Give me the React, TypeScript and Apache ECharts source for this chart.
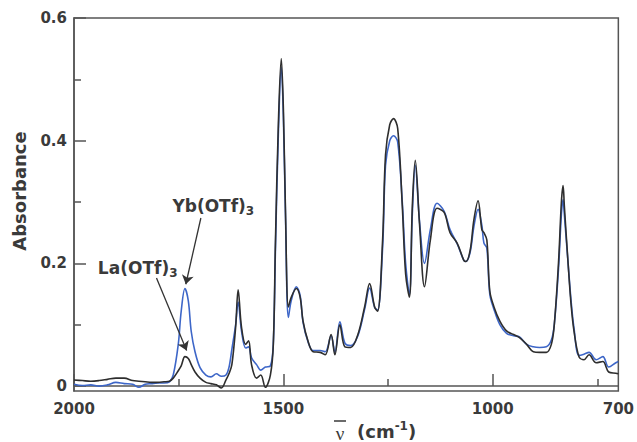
import React, { useEffect, useRef } from "react";
import * as echarts from "echarts";

// Wavenumber (cm-1)
const wavenumber = [
  2000, 1980, 1960, 1940, 1920, 1900, 1880, 1860, 1845, 1830, 1815, 1800, 1785, 1772,
  1763, 1751, 1744, 1735, 1727, 1720, 1711, 1699, 1685, 1673, 1660, 1648, 1637, 1630,
  1623, 1614, 1608, 1600, 1590, 1583, 1576, 1564, 1554, 1543, 1531, 1524, 1519, 1512,
  1505, 1500, 1495, 1488, 1481, 1469, 1460, 1453, 1441, 1429, 1412, 1400, 1386, 1377,
  1365, 1353, 1339, 1322, 1306, 1294, 1282, 1275, 1263, 1256, 1246, 1237, 1227, 1216,
  1208, 1199, 1192, 1185, 1175, 1163, 1149, 1133, 1116, 1102, 1085, 1069, 1064, 1054,
  1045, 1035, 1026, 1021, 1014, 1007, 997, 983, 967, 950, 936, 919, 903, 888, 872, 860,
  853, 843, 836, 832, 829, 820, 813, 806, 794, 782, 770, 753, 737, 723, 706, 700,
];

// Black trace: La(OTf)3
const laOTf3 = [
  0.010, 0.009, 0.008, 0.009, 0.011, 0.013, 0.013, 0.009, 0.008, 0.007, 0.006, 0.006, 0.007, 0.008,
  0.013, 0.025, 0.033, 0.048, 0.045, 0.035, 0.023, 0.013, 0.006, 0.004, 0.002, -0.003, 0.010, 0.020,
  0.035, 0.096, 0.157, 0.096, 0.068, 0.074, 0.035, 0.013, 0.018, -0.002, 0.018, 0.068, 0.233, 0.426,
  0.534, 0.453, 0.288, 0.129, 0.145, 0.159, 0.145, 0.106, 0.073, 0.056, 0.055, 0.051, 0.084, 0.051,
  0.100, 0.064, 0.063, 0.084, 0.129, 0.167, 0.129, 0.122, 0.238, 0.377, 0.426, 0.436, 0.420, 0.294,
  0.183, 0.145, 0.294, 0.368, 0.266, 0.162, 0.238, 0.290, 0.283, 0.250, 0.233, 0.205, 0.203, 0.221,
  0.271, 0.302, 0.255, 0.250, 0.238, 0.155, 0.129, 0.106, 0.090, 0.084, 0.079, 0.068, 0.056, 0.055, 0.055, 0.068,
  0.100, 0.200, 0.300, 0.327, 0.294, 0.200, 0.134, 0.090, 0.048, 0.043, 0.051, 0.038, 0.040, 0.023, 0.021, 0.020,
];

// Blue trace: Yb(OTf)3
const ybOTf3 = [
  0.003, 0.001, 0.002, 0.000, 0.002, 0.006, 0.004, 0.003, -0.002, 0.003, 0.004, 0.005, 0.005, 0.007,
  0.018, 0.068, 0.122, 0.159, 0.139, 0.089, 0.056, 0.030, 0.018, 0.015, 0.020, 0.016, 0.018, 0.030,
  0.060, 0.100, 0.137, 0.090, 0.062, 0.064, 0.046, 0.035, 0.026, 0.031, 0.033, 0.070, 0.220, 0.410,
  0.520, 0.440, 0.280, 0.112, 0.140, 0.162, 0.148, 0.104, 0.072, 0.058, 0.058, 0.056, 0.082, 0.055,
  0.105, 0.070, 0.066, 0.082, 0.125, 0.160, 0.128, 0.124, 0.225, 0.360, 0.400, 0.408, 0.398, 0.300,
  0.200, 0.150, 0.280, 0.360, 0.270, 0.200, 0.255, 0.298, 0.285, 0.255, 0.232, 0.205, 0.203, 0.218,
  0.260, 0.288, 0.262, 0.233, 0.225, 0.150, 0.125, 0.100, 0.086, 0.082, 0.080, 0.068, 0.064, 0.063, 0.064, 0.075,
  0.100, 0.190, 0.280, 0.304, 0.280, 0.200, 0.140, 0.095, 0.050, 0.052, 0.055, 0.043, 0.048, 0.031, 0.038, 0.040,
];

const xMajorTicks = [2000, 1500, 1000];
const xMinorTicks = [1750, 1250, 750];
const xTickLabels = [2000, 1500, 1000, 700];
const yMajorTicks = [0, 0.2, 0.4, 0.6];
const yMinorTicks = [0.1, 0.3, 0.5];
const yTickLabels = [0, 0.2, 0.4, 0.6];

const FONT = "DejaVu Sans";
const AXIS_COLOR = "#555";
const TEXT_COLOR = "#3a3a3a";

export default function App() {
  const ref = useRef<HTMLDivElement>(null);
  useEffect(() => {
    if (!ref.current) return;
    const chart = echarts.init(ref.current, undefined, { renderer: "svg" });
    const xBase = {
      type: "value" as const,
      min: 700,
      max: 2000,
      inverse: true,
      position: "bottom" as const,
      splitLine: { show: false },
    };
    const yBase = {
      type: "value" as const,
      min: -0.008,
      max: 0.6,
      position: "left" as const,
      splitLine: { show: false },
    };
    const option: any = {
      animation: false,
      backgroundColor: "#fff",
      grid: {
        left: 74,
        right: 15,
        top: 18,
        bottom: 51,
        show: true,
        borderColor: AXIS_COLOR,
        borderWidth: 1.5,
        backgroundColor: "transparent",
      },
      xAxis: [
        {
          ...xBase,
          axisLine: { show: true, lineStyle: { color: AXIS_COLOR, width: 1.5 } },
          axisTick: {
            show: true,
            inside: true,
            length: 12,
            customValues: xMajorTicks,
            lineStyle: { color: AXIS_COLOR, width: 1.5 },
          },
          axisLabel: {
            customValues: xTickLabels,
            formatter: (v: number) => String(Math.round(v)),
            fontSize: 15,
            fontWeight: "bold",
            fontFamily: FONT,
            color: TEXT_COLOR,
            margin: 10,
          },
        },
        {
          ...xBase,
          axisLine: { show: false },
          axisTick: {
            show: true,
            inside: true,
            length: 7,
            customValues: xMinorTicks,
            lineStyle: { color: AXIS_COLOR, width: 1.5 },
          },
          axisLabel: { show: false },
        },
      ],
      yAxis: [
        {
          ...yBase,
          axisLine: { show: true, lineStyle: { color: AXIS_COLOR, width: 1.5 } },
          axisTick: {
            show: true,
            inside: true,
            length: 12,
            customValues: yMajorTicks,
            lineStyle: { color: AXIS_COLOR, width: 1.5 },
          },
          axisLabel: {
            customValues: yTickLabels,
            formatter: (v: number) => (Math.abs(v) < 1e-9 ? "0" : v.toFixed(1)),
            fontSize: 15,
            fontWeight: "bold",
            fontFamily: FONT,
            color: TEXT_COLOR,
            margin: 7,
          },
        },
        {
          ...yBase,
          axisLine: { show: false },
          axisTick: {
            show: true,
            inside: true,
            length: 7,
            customValues: yMinorTicks,
            lineStyle: { color: AXIS_COLOR, width: 1.5 },
          },
          axisLabel: { show: false },
        },
      ],
      series: [
        {
          name: "Yb(OTf)3",
          type: "line",
          xAxisIndex: 0,
          yAxisIndex: 0,
          showSymbol: false,
          smooth: 0.35,
          data: wavenumber.map((x, i) => [x, ybOTf3[i]]),
          lineStyle: { color: "#3d66c8", width: 1.6 },
          z: 2,
        },
        {
          name: "La(OTf)3",
          type: "line",
          xAxisIndex: 0,
          yAxisIndex: 0,
          showSymbol: false,
          smooth: 0.35,
          data: wavenumber.map((x, i) => [x, laOTf3[i]]),
          lineStyle: { color: "#2e2e2e", width: 1.6 },
          z: 3,
          markLine: {
            silent: true,
            symbol: ["none", "arrow"],
            symbolSize: 9,
            label: { show: false },
            lineStyle: { color: "#333", width: 1.3, type: "solid" },
            data: [
              [{ coord: [1697, 0.274] }, { coord: [1733, 0.166] }],
              [{ coord: [1803, 0.176] }, { coord: [1731, 0.058] }],
            ],
          },
        },
      ],
    };
    chart.setOption(option);

    const px = (x: number, y: number) =>
      chart.convertToPixel({ xAxisIndex: 0, yAxisIndex: 0 }, [x, y]) as number[];
    const ybPos = px(1765, 0.294);
    const laPos = px(1943, 0.192);
    const labelRich = {
      m: { fontSize: 17, fontWeight: "bold", fontFamily: FONT, fill: TEXT_COLOR, color: TEXT_COLOR, lineHeight: 22 },
      s: { fontSize: 12, fontWeight: "bold", fontFamily: FONT, fill: TEXT_COLOR, color: TEXT_COLOR, lineHeight: 12, verticalAlign: "bottom" },
    };
    const supRich = {
      m: { fontSize: 18, fontWeight: "bold", fontFamily: FONT, fill: TEXT_COLOR, color: TEXT_COLOR, lineHeight: 22 },
      s: { fontSize: 12, fontWeight: "bold", fontFamily: FONT, fill: TEXT_COLOR, color: TEXT_COLOR, lineHeight: 12, verticalAlign: "top" },
    };
    chart.setOption({
      graphic: [
        {
          type: "text",
          x: ybPos[0],
          y: ybPos[1],
          style: {
            text: "{m|Yb(OTf)}{s|3}",
            rich: labelRich,
            textAlign: "left",
            textVerticalAlign: "middle",
            align: "left",
            verticalAlign: "middle",
          },
          z: 10,
        },
        {
          type: "text",
          x: laPos[0],
          y: laPos[1],
          style: {
            text: "{m|La(OTf)}{s|3}",
            rich: labelRich,
            textAlign: "left",
            textVerticalAlign: "middle",
            align: "left",
            verticalAlign: "middle",
          },
          z: 10,
        },
        {
          type: "text",
          x: 19,
          y: 191,
          rotation: Math.PI / 2,
          style: {
            text: "Absorbance",
            font: `bold 18px "${FONT}"`,
            fontSize: 18,
            fontWeight: "bold",
            fontFamily: FONT,
            fill: TEXT_COLOR,
            textAlign: "center",
            textVerticalAlign: "middle",
            align: "center",
            verticalAlign: "middle",
          },
        },
        {
          type: "text",
          x: 340,
          y: 433,
          style: {
            text: "ν",
            fontSize: 19,
            fontFamily: "Liberation Serif",
            fill: TEXT_COLOR,
            textAlign: "center",
            textVerticalAlign: "middle",
            align: "center",
            verticalAlign: "middle",
          },
        },
        {
          type: "line",
          shape: { x1: 334, y1: 421, x2: 346, y2: 421 },
          style: { stroke: TEXT_COLOR, lineWidth: 1.5 },
        },
        {
          type: "text",
          x: 357,
          y: 431,
          style: {
            text: "{m|(cm}{s|-1}{m|)}",
            rich: supRich,
            textAlign: "left",
            textVerticalAlign: "middle",
            align: "left",
            verticalAlign: "middle",
          },
        },
      ],
    });
    return () => chart.dispose();
  }, []);
  return (
    <div
      ref={ref}
      style={{ position: "fixed", left: 0, top: 0, width: 637, height: 442, background: "#fff" }}
    />
  );
}
